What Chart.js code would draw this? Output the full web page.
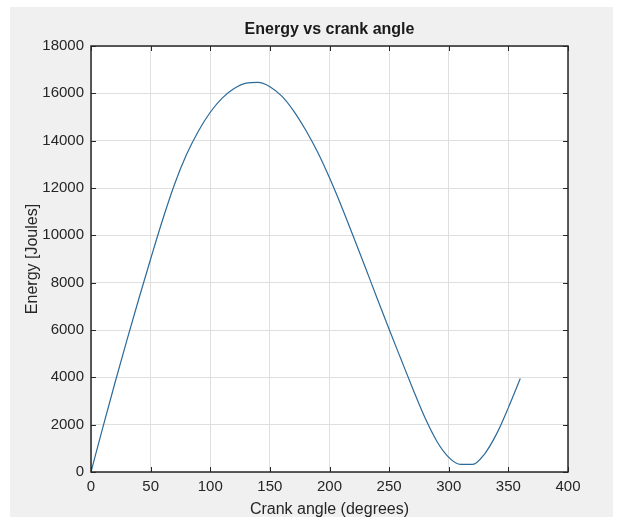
<!DOCTYPE html>
<html>
<head>
<meta charset="utf-8">
<title>Energy vs crank angle</title>
<script src="https://cdn.jsdelivr.net/npm/chart.js@4/dist/chart.umd.min.js"></script>
<style>
    html, body { margin: 0; padding: 0; background: #ffffff; }
    canvas { display: block; }
</style>
</head>
<body>
<canvas id="energyChart" width="623" height="525"></canvas>
<script>
// Data (crank angle in degrees, energy in joules)
const crankAngles = [0, 10, 20, 30, 40, 50, 60, 70, 80, 90, 100, 110, 120, 130, 140, 150, 160, 170, 180,
    190, 200, 210, 220, 230, 240, 250, 260, 270, 280, 290, 300, 310, 320, 330, 340, 350, 360];
const energyValues = [0, 1900, 3750, 5550, 7300, 9000, 10650, 12150, 13400, 14400, 15200, 15800, 16200,
    16430, 16460, 16280, 15880, 15250, 14450, 13520, 12430, 11230, 9950, 8650, 7330, 6030, 4760,
    3500, 2300, 1300, 620, 320, 320, 760, 1600, 2720, 3950];
const xTicks = [0, 50, 100, 150, 200, 250, 300, 350, 400];
const yTicks = [0, 2000, 4000, 6000, 8000, 10000, 12000, 14000, 16000, 18000];
const chartTitle = 'Energy vs crank angle';

const FONT = '"Liberation Sans", Arial, Helvetica, sans-serif';
const TEXT_COLOR = '#262626';
const BOX_COLOR = '#262626';
const GRID_COLOR = '#dfdfdf';

// Gray figure, white axes, a full box with inward ticks and a title centred on the axes (MATLAB look)
const matlabFrame = {
    id: 'matlabFrame',
    beforeDraw(chart) {
        const ctx = chart.ctx;
        const a = chart.chartArea;
        ctx.save();
        ctx.fillStyle = '#ffffff';
        ctx.fillRect(0, 0, chart.width, chart.height);
        ctx.fillStyle = '#f0f0f0';
        ctx.fillRect(10, 7, 603, 510);
        ctx.fillStyle = '#ffffff';
        ctx.fillRect(a.left, a.top, a.right - a.left, a.bottom - a.top);
        ctx.restore();
    },
    afterDraw(chart) {
        const ctx = chart.ctx;
        const a = chart.chartArea;
        const xs = chart.scales.x;
        const ys = chart.scales.y;
        const len = 5;
        ctx.save();
        ctx.strokeStyle = BOX_COLOR;
        ctx.lineWidth = 1;
        ctx.beginPath();
        xTicks.forEach(v => {
            const px = Math.round(xs.getPixelForValue(v)) + 0.5;
            ctx.moveTo(px, a.bottom);
            ctx.lineTo(px, a.bottom - len);
            ctx.moveTo(px, a.top);
            ctx.lineTo(px, a.top + len);
        });
        yTicks.forEach(v => {
            const py = Math.round(ys.getPixelForValue(v)) + 0.5;
            ctx.moveTo(a.left, py);
            ctx.lineTo(a.left + len, py);
            ctx.moveTo(a.right, py);
            ctx.lineTo(a.right - len, py);
        });
        ctx.stroke();
        ctx.lineWidth = 1.5;
        ctx.strokeRect(a.left, a.top, a.right - a.left, a.bottom - a.top);

        // title
        ctx.fillStyle = '#1a1a1a';
        ctx.font = 'bold 16px ' + FONT;
        ctx.textAlign = 'center';
        ctx.textBaseline = 'middle';
        ctx.fillText(chartTitle, (a.left + a.right) / 2, 30);
        ctx.restore();
    }
};

const ctx = document.getElementById('energyChart').getContext('2d');

new Chart(ctx, {
    type: 'line',
    data: {
        datasets: [{
            label: 'Energy',
            data: crankAngles.map((x, i) => ({ x: x, y: energyValues[i] })),
            borderColor: '#2b6a99',
            borderWidth: 1.2,
            pointRadius: 0,
            cubicInterpolationMode: 'monotone',
            fill: false
        }]
    },
    options: {
        responsive: false,
        animation: false,
        devicePixelRatio: 1,
        layout: {
            padding: { left: 0, right: 55, top: 46, bottom: 0 }
        },
        plugins: {
            legend: { display: false },
            tooltip: { enabled: false },
            title: { display: false }
        },
        scales: {
            x: {
                type: 'linear',
                min: 0,
                max: 400,
                afterFit: scale => { scale.height = 53; },
                afterBuildTicks: scale => { scale.ticks = xTicks.map(v => ({ value: v })); },
                ticks: {
                    color: TEXT_COLOR,
                    font: { family: FONT, size: 15 },
                    padding: 6,
                    maxRotation: 0,
                    callback: v => String(v)
                },
                grid: { color: GRID_COLOR, drawTicks: false },
                border: { display: false },
                title: {
                    display: true,
                    text: 'Crank angle (degrees)',
                    color: TEXT_COLOR,
                    font: { family: FONT, size: 16, lineHeight: 1.2 },
                    padding: { top: 0, bottom: 5.4 }
                }
            },
            y: {
                min: 0,
                max: 18000,
                afterFit: scale => { scale.width = 91; },
                afterBuildTicks: scale => { scale.ticks = yTicks.map(v => ({ value: v })); },
                ticks: {
                    color: TEXT_COLOR,
                    font: { family: FONT, size: 15 },
                    padding: 7,
                    callback: v => String(v)
                },
                grid: { color: GRID_COLOR, drawTicks: false },
                border: { display: false },
                title: {
                    display: true,
                    text: 'Energy [Joules]',
                    color: TEXT_COLOR,
                    font: { family: FONT, size: 16, lineHeight: 1.2 },
                    padding: { top: 23.4, bottom: 0 }
                }
            }
        }
    },
    plugins: [matlabFrame]
});
</script>
</body>
</html>
